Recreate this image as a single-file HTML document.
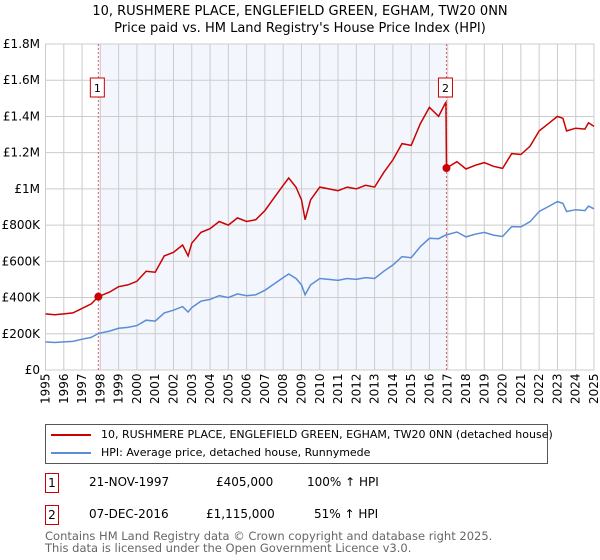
<!DOCTYPE html>
<html><head><meta charset="utf-8"><style>
body{margin:0;background:#fff;font-family:"DejaVu Sans","Liberation Sans",sans-serif;}
#wrap{position:relative;width:600px;height:560px;overflow:hidden;}
.t{position:absolute;font-size:12px;color:#000;white-space:nowrap;}
</style></head><body><div id="wrap">
<div class="t" style="left:0;width:600px;text-align:center;top:3px;font-size:13px;line-height:17px">10, RUSHMERE PLACE, ENGLEFIELD GREEN, EGHAM, TW20 0NN<br>Price paid vs. HM Land Registry's House Price Index (HPI)</div>
<svg id="chart" width="600" height="420" style="position:absolute;left:0;top:0"></svg>
<div style="position:absolute;left:45px;top:424px;width:501px;height:38px;border:1px solid #555;">
 <div style="position:absolute;left:5px;top:3px;font-size:11px;white-space:nowrap"><span style="display:inline-block;width:40px;height:2px;background:#cc0000;vertical-align:middle;margin-right:10px"></span>10, RUSHMERE PLACE, ENGLEFIELD GREEN, EGHAM, TW20 0NN (detached house)</div>
 <div style="position:absolute;left:5px;top:21px;font-size:11px;white-space:nowrap"><span style="display:inline-block;width:40px;height:2px;background:#5b8dd6;vertical-align:middle;margin-right:10px"></span>HPI: Average price, detached house, Runnymede</div>
</div>
<div>
<div class="t" style="left:45px;top:473px;border:1px solid #cc0000;width:12px;height:18px;text-align:center;line-height:18px">1</div>
<div class="t" style="left:89px;top:475px">21-NOV-1997</div>
<div class="t" style="left:216px;top:475px">£405,000</div>
<div class="t" style="left:307px;top:475px">100% ↑ HPI</div></div>
<div>
<div class="t" style="left:45px;top:505px;border:1px solid #cc0000;width:12px;height:18px;text-align:center;line-height:18px">2</div>
<div class="t" style="left:89px;top:507px">07-DEC-2016</div>
<div class="t" style="left:206px;top:507px">£1,115,000</div>
<div class="t" style="left:314px;top:507px">51% ↑ HPI</div></div>
<div class="t" style="left:45px;top:530px;font-size:11.5px;color:#666;line-height:12px">Contains HM Land Registry data © Crown copyright and database right 2025.<br>This data is licensed under the Open Government Licence v3.0.</div>
</div>
<script>
const dates=[1995,1995.5,1996,1996.5,1997,1997.5,1997.9,1998.5,1999,1999.5,2000,2000.5,2001,2001.5,2002,2002.5,2002.8,2003,2003.5,2004,2004.5,2005,2005.5,2006,2006.5,2007,2007.5,2008,2008.3,2008.7,2009,2009.2,2009.5,2010,2010.5,2011,2011.5,2012,2012.5,2013,2013.5,2014,2014.5,2015,2015.5,2016,2016.5,2016.9,2016.93,2017.5,2018,2018.5,2019,2019.5,2020,2020.5,2021,2021.5,2022,2022.5,2023,2023.3,2023.5,2024,2024.5,2024.7,2025];
const hpi=[155,152,155,158,170,180,202,215,230,235,245,275,270,315,330,350,320,345,380,390,410,400,420,410,415,440,475,510,530,505,470,415,470,505,500,495,505,500,510,505,545,580,626,620,681,727,725,746,746,762,735,750,760,745,737,792,790,819,875,902,930,920,875,885,880,905,890];
const price=[310,305,310,315,340,365,405,430,460,470,490,545,540,630,650,690,630,700,760,780,820,800,840,820,830,880,950,1020,1060,1010,940,830,940,1010,1000,990,1010,1000,1020,1010,1090,1160,1250,1240,1360,1450,1400,1480,1115,1150,1110,1130,1145,1125,1113,1195,1190,1235,1320,1360,1400,1390,1320,1335,1330,1365,1345];
const yTicks=[0,200,400,600,800,1000,1200,1400,1600,1800];
const yLabels=["£0","£200K","£400K","£600K","£800K","£1M","£1.2M","£1.4M","£1.6M","£1.8M"];
const years=[1995,1996,1997,1998,1999,2000,2001,2002,2003,2004,2005,2006,2007,2008,2009,2010,2011,2012,2013,2014,2015,2016,2017,2018,2019,2020,2021,2022,2023,2024,2025];
const sales=[{n:"1",t:1997.89,v:405},{n:"2",t:2016.93,v:1115}];
const X0=45.5,X1=594,Y0=370,Y1=44;
const x=t=>X0+(t-1995)/30*(X1-X0);
const y=v=>Y0-v/1800*(Y0-Y1);
const svg=document.getElementById('chart');const NS='http://www.w3.org/2000/svg';
function mk(tag,attrs){const e=document.createElementNS(NS,tag);for(const k in attrs)e.setAttribute(k,attrs[k]);svg.appendChild(e);return e;}
let e=mk('rect',{x:x(sales[0].t),y:Y1,width:x(sales[1].t)-x(sales[0].t),height:Y0-Y1,fill:'#f3f6fd'});


years.forEach(yr=>{const g=mk('line',{x1:x(yr),x2:x(yr),y1:Y1,y2:Y0,stroke:'#cccccc','stroke-width':1});


const tx=mk('text',{x:0,y:0,'font-size':12,'font-family':'DejaVu Sans, Liberation Sans, sans-serif',transform:`translate(${x(yr)+4},${Y0+34}) rotate(-90)`});
tx.textContent=yr;

});
yTicks.forEach((v,i)=>{const g=mk('line',{x1:X0,x2:X1,y1:y(v),y2:y(v),stroke:'#cccccc','stroke-width':1});


const tx=mk('text',{x:40,y:y(v)+4,'text-anchor':'end','font-size':12,'font-family':'DejaVu Sans, Liberation Sans, sans-serif'});
tx.textContent=yLabels[i];

});
e=mk('rect',{x:X0,y:Y1,width:X1-X0,height:Y0-Y1,fill:'none',stroke:'#cccccc'});


sales.forEach(s=>{const l=mk('line',{x1:x(s.t),x2:x(s.t),y1:Y1,y2:Y0,stroke:'#e06060','stroke-dasharray':'2,2','stroke-width':1});

});
const pts=a=>a.map((v,i)=>x(dates[i]).toFixed(1)+','+y(v).toFixed(1)).join(' ');
e=mk('polyline',{points:pts(hpi),fill:'none',stroke:'#5b8dd6','stroke-width':1.5});


e=mk('polyline',{points:pts(price),fill:'none',stroke:'#cc0000','stroke-width':1.5});


sales.forEach(s=>{const c=mk('circle',{cx:x(s.t),cy:y(s.v),r:4,fill:'#cc0000'});


const b=mk('rect',{x:x(s.t)-8,y:78,width:14,height:19,fill:'#fff',stroke:'#cc0000'});


const t=mk('text',{x:x(s.t)-1,y:92,'text-anchor':'middle','font-size':11,'font-family':'DejaVu Sans, sans-serif'});
t.textContent=s.n;

});
</script></body></html>
